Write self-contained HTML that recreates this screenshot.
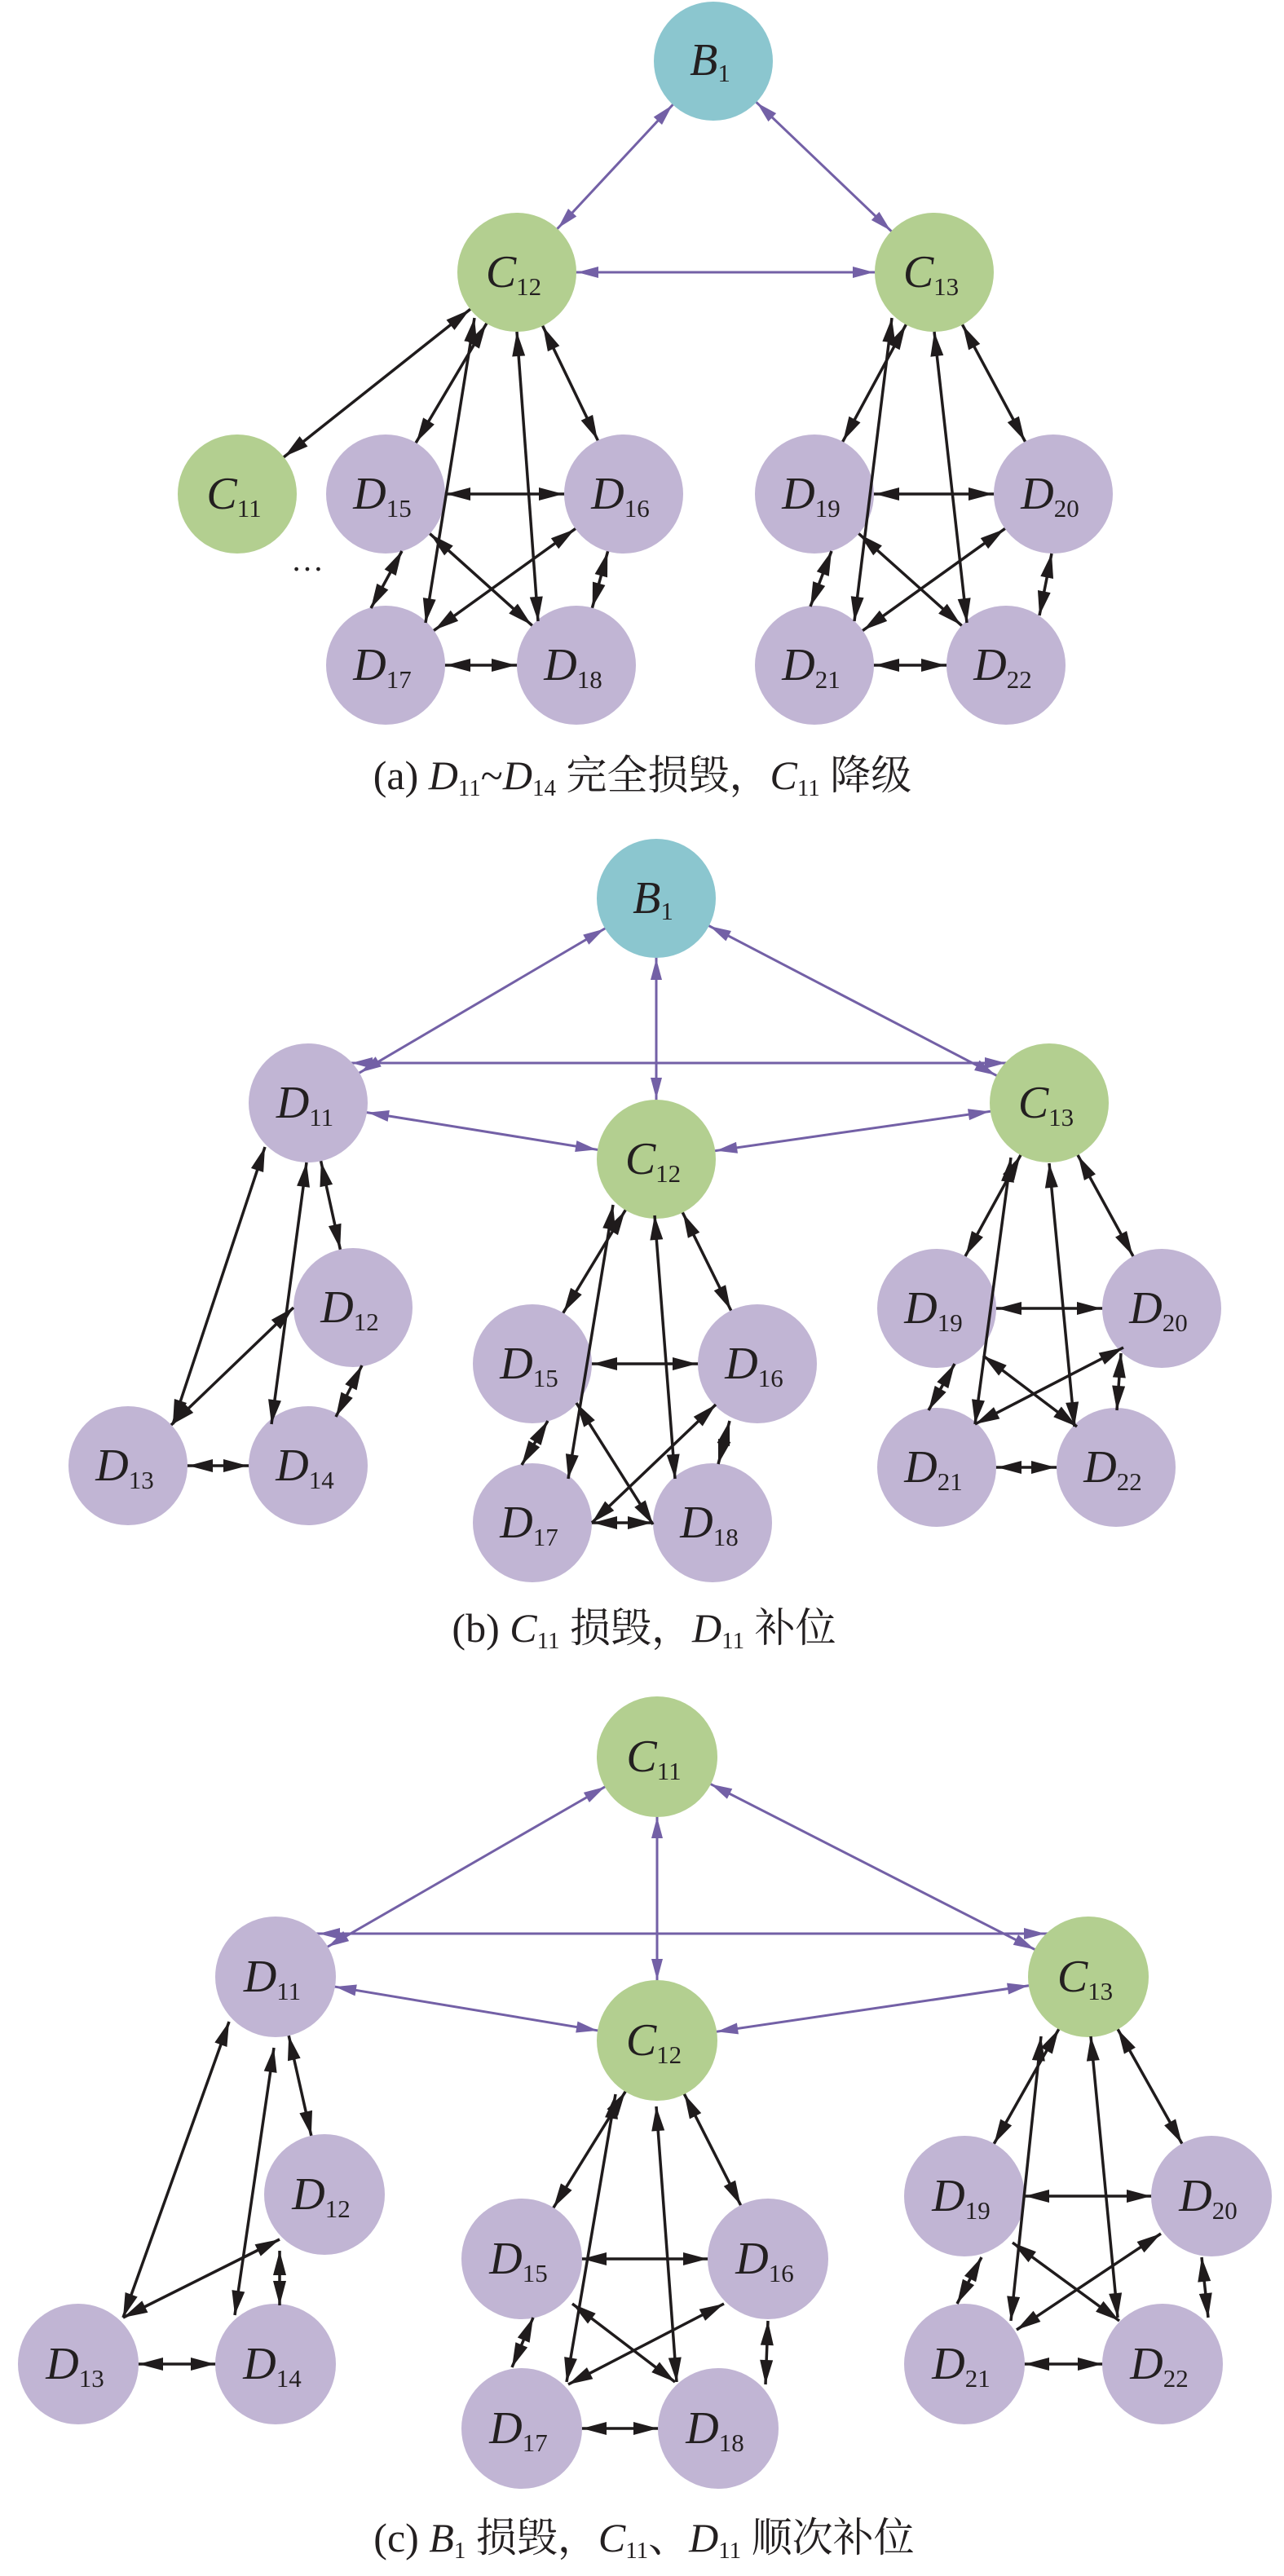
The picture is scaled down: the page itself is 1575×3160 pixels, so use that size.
<!DOCTYPE html>
<html><head><meta charset="utf-8"><style>
html,body{margin:0;padding:0;background:#fff;}
svg{display:block;}
.n text{font-family:"Liberation Serif",serif;fill:#231f20;}
.lb{font-style:italic;font-size:56px;}
.sb{font-style:normal;font-size:31px;}
.cap{font-family:"Liberation Serif","Noto Serif CJK SC",serif;font-size:50px;fill:#231f20;}
</style></head><body>
<svg width="1575" height="3160" viewBox="0 0 1575 3160" xmlns="http://www.w3.org/2000/svg">
<defs>
<marker id="k" viewBox="-110 -12 110 24" refX="0" refY="0" markerUnits="userSpaceOnUse" markerWidth="110" markerHeight="24" orient="auto-start-reverse"><path d="M-74,0 L-104,-8 L-104,8 Z" fill="#1f1b1c"/></marker>
<marker id="k0" viewBox="-40 -12 40 24" refX="0" refY="0" markerUnits="userSpaceOnUse" markerWidth="40" markerHeight="24" orient="auto-start-reverse"><path d="M0,0 L-30,-8 L-30,8 Z" fill="#1f1b1c"/></marker>
<marker id="p" viewBox="-110 -12 110 24" refX="0" refY="0" markerUnits="userSpaceOnUse" markerWidth="110" markerHeight="24" orient="auto-start-reverse"><path d="M-74,0 L-100,-7 L-100,7 Z" fill="#7360a6"/></marker>
<marker id="p2" viewBox="-110 -12 110 24" refX="0" refY="0" markerUnits="userSpaceOnUse" markerWidth="110" markerHeight="24" orient="auto-start-reverse"><path d="M-53,0 L-79,-7 L-79,7 Z" fill="#7360a6"/></marker>
</defs>

<!-- ===== center-directed edges (under nodes) ===== -->
<g stroke="#7360a6" stroke-width="3" marker-start="url(#p)" marker-end="url(#p)" fill="none">
<line x1="875" y1="75" x2="634" y2="334"/>
<line x1="875" y1="75" x2="1146" y2="334"/>
<line x1="634" y1="334" x2="1146" y2="334"/>
<line x1="805" y1="1102" x2="378" y2="1353"/>
<line x1="805" y1="1102" x2="805" y2="1422"/>
<line x1="805" y1="1102" x2="1287" y2="1353"/>
<line x1="378" y1="1353" x2="805" y2="1422"/>
<line x1="1287" y1="1353" x2="805" y2="1422"/>
<line x1="806" y1="2155" x2="338" y2="2425"/>
<line x1="806" y1="2155" x2="806" y2="2503"/>
<line x1="806" y1="2155" x2="1335" y2="2425"/>
<line x1="338" y1="2425" x2="806" y2="2503"/>
<line x1="1335" y1="2425" x2="806" y2="2503"/>
</g>
<line x1="378" y1="1304" x2="1287" y2="1304" stroke="#7360a6" stroke-width="3" marker-start="url(#p2)" marker-end="url(#p2)"/>
<line x1="338" y1="2372" x2="1335" y2="2372" stroke="#7360a6" stroke-width="3" marker-start="url(#p2)" marker-end="url(#p2)"/>

<g stroke="#1f1b1c" stroke-width="3.5" marker-start="url(#k)" marker-end="url(#k)" fill="none">
<!-- A -->
<line x1="634" y1="334" x2="291" y2="606"/>
<line x1="634" y1="334" x2="473" y2="606"/>
<line x1="634" y1="334" x2="765" y2="606"/>
<line x1="473" y1="606" x2="765" y2="606"/>
<line x1="473" y1="606" x2="707" y2="816"/>
<line x1="765" y1="606" x2="473" y2="816"/>
<line x1="765" y1="606" x2="707" y2="816"/>
<line x1="473" y1="816" x2="707" y2="816"/>
<line x1="1146" y1="334" x2="999" y2="606"/>
<line x1="1146" y1="334" x2="1292" y2="606"/>
<line x1="999" y1="606" x2="1292" y2="606"/>
<line x1="999" y1="606" x2="1234" y2="816"/>
<line x1="1292" y1="606" x2="999" y2="816"/>
<line x1="999" y1="816" x2="1234" y2="816"/>
<!-- B -->
<line x1="378" y1="1353" x2="433" y2="1604"/>
<line x1="157" y1="1798" x2="378" y2="1798"/>
<line x1="805" y1="1422" x2="653" y2="1673"/>
<line x1="805" y1="1422" x2="929" y2="1673"/>
<line x1="653" y1="1673" x2="929" y2="1673"/>
<line x1="653" y1="1868" x2="874" y2="1868"/>
<line x1="1287" y1="1353" x2="1149" y2="1605"/>
<line x1="1287" y1="1353" x2="1425" y2="1605"/>
<line x1="1149" y1="1605" x2="1425" y2="1605"/>
<line x1="1149" y1="1800" x2="1369" y2="1800"/>
<!-- C -->
<line x1="338" y1="2425" x2="398" y2="2692"/>
<line x1="96" y1="2900" x2="338" y2="2900"/>
<line x1="806" y1="2503" x2="640" y2="2771"/>
<line x1="806" y1="2503" x2="942" y2="2771"/>
<line x1="640" y1="2771" x2="942" y2="2771"/>
<line x1="640" y1="2979" x2="881" y2="2979"/>
<line x1="1335" y1="2425" x2="1183" y2="2694"/>
<line x1="1335" y1="2425" x2="1486" y2="2694"/>
<line x1="1183" y1="2694" x2="1486" y2="2694"/>
<line x1="1183" y1="2900" x2="1426" y2="2900"/>
</g>

<!-- ===== Nodes ===== -->
<g>
<circle cx="875" cy="75" r="73" fill="#8bc6cf"/>
<circle cx="634" cy="334" r="73" fill="#b3cf90"/>
<circle cx="1146" cy="334" r="73" fill="#b3cf90"/>
<circle cx="291" cy="606" r="73" fill="#b3cf90"/>
<circle cx="473" cy="606" r="73" fill="#c1b5d4"/>
<circle cx="765" cy="606" r="73" fill="#c1b5d4"/>
<circle cx="999" cy="606" r="73" fill="#c1b5d4"/>
<circle cx="1292" cy="606" r="73" fill="#c1b5d4"/>
<circle cx="473" cy="816" r="73" fill="#c1b5d4"/>
<circle cx="707" cy="816" r="73" fill="#c1b5d4"/>
<circle cx="999" cy="816" r="73" fill="#c1b5d4"/>
<circle cx="1234" cy="816" r="73" fill="#c1b5d4"/>
<circle cx="805" cy="1102" r="73" fill="#8bc6cf"/>
<circle cx="378" cy="1353" r="73" fill="#c1b5d4"/>
<circle cx="1287" cy="1353" r="73" fill="#b3cf90"/>
<circle cx="805" cy="1422" r="73" fill="#b3cf90"/>
<circle cx="433" cy="1604" r="73" fill="#c1b5d4"/>
<circle cx="157" cy="1798" r="73" fill="#c1b5d4"/>
<circle cx="378" cy="1798" r="73" fill="#c1b5d4"/>
<circle cx="653" cy="1673" r="73" fill="#c1b5d4"/>
<circle cx="929" cy="1673" r="73" fill="#c1b5d4"/>
<circle cx="653" cy="1868" r="73" fill="#c1b5d4"/>
<circle cx="874" cy="1868" r="73" fill="#c1b5d4"/>
<circle cx="1149" cy="1605" r="73" fill="#c1b5d4"/>
<circle cx="1425" cy="1605" r="73" fill="#c1b5d4"/>
<circle cx="1149" cy="1800" r="73" fill="#c1b5d4"/>
<circle cx="1369" cy="1800" r="73" fill="#c1b5d4"/>
<circle cx="806" cy="2155" r="74" fill="#b3cf90"/>
<circle cx="338" cy="2425" r="74" fill="#c1b5d4"/>
<circle cx="1335" cy="2425" r="74" fill="#b3cf90"/>
<circle cx="806" cy="2503" r="74" fill="#b3cf90"/>
<circle cx="398" cy="2692" r="74" fill="#c1b5d4"/>
<circle cx="96" cy="2900" r="74" fill="#c1b5d4"/>
<circle cx="338" cy="2900" r="74" fill="#c1b5d4"/>
<circle cx="640" cy="2771" r="74" fill="#c1b5d4"/>
<circle cx="942" cy="2771" r="74" fill="#c1b5d4"/>
<circle cx="640" cy="2979" r="74" fill="#c1b5d4"/>
<circle cx="881" cy="2979" r="74" fill="#c1b5d4"/>
<circle cx="1183" cy="2694" r="74" fill="#c1b5d4"/>
<circle cx="1486" cy="2694" r="74" fill="#c1b5d4"/>
<circle cx="1183" cy="2900" r="74" fill="#c1b5d4"/>
<circle cx="1426" cy="2900" r="74" fill="#c1b5d4"/>
</g>

<!-- ===== explicit-endpoint edges (over nodes) ===== -->
<g stroke="#1f1b1c" stroke-width="3.5" marker-start="url(#k0)" marker-end="url(#k0)" fill="none">
<!-- A -->
<line x1="582" y1="390" x2="522" y2="764"/>
<line x1="634" y1="407" x2="660" y2="762"/>
<line x1="493" y1="676" x2="455" y2="746"/>
<line x1="1094" y1="390" x2="1048" y2="762"/>
<line x1="1146" y1="407" x2="1186" y2="764"/>
<line x1="1020" y1="676" x2="994" y2="744"/>
<line x1="1290" y1="679" x2="1275" y2="755"/>
<!-- B -->
<line x1="325" y1="1407" x2="212" y2="1747"/>
<line x1="376" y1="1426" x2="333" y2="1747"/>
<line x1="360" y1="1604" x2="210" y2="1748"/>
<line x1="444" y1="1675" x2="412" y2="1738"/>
<line x1="752" y1="1478" x2="697" y2="1814"/>
<line x1="803" y1="1491" x2="828" y2="1814"/>
<line x1="707" y1="1721" x2="801" y2="1870"/>
<line x1="878" y1="1723" x2="726" y2="1868"/>
<line x1="672" y1="1743" x2="640" y2="1797"/>
<line x1="895" y1="1743" x2="881" y2="1796"/>
<line x1="1240" y1="1420" x2="1196" y2="1747"/>
<line x1="1287" y1="1427" x2="1318" y2="1750"/>
<line x1="1206" y1="1663" x2="1321" y2="1750"/>
<line x1="1378" y1="1653" x2="1196" y2="1747"/>
<line x1="1171" y1="1673" x2="1139" y2="1730"/>
<line x1="1375" y1="1660" x2="1370" y2="1730"/>
<!-- C -->
<line x1="281" y1="2480" x2="151" y2="2843"/>
<line x1="336" y1="2512" x2="288" y2="2840"/>
<line x1="343" y1="2747" x2="151" y2="2843"/>
<line x1="343" y1="2761" x2="343" y2="2828"/>
<line x1="755" y1="2569" x2="695" y2="2922"/>
<line x1="805" y1="2584" x2="830" y2="2922"/>
<line x1="702" y1="2826" x2="828" y2="2922"/>
<line x1="888" y1="2826" x2="697" y2="2925"/>
<line x1="654" y1="2843" x2="628" y2="2904"/>
<line x1="942" y1="2847" x2="939" y2="2925"/>
<line x1="1277" y1="2498" x2="1240" y2="2847"/>
<line x1="1338" y1="2498" x2="1371" y2="2843"/>
<line x1="1242" y1="2751" x2="1373" y2="2847"/>
<line x1="1424" y1="2740" x2="1247" y2="2858"/>
<line x1="1204" y1="2769" x2="1174" y2="2826"/>
<line x1="1474" y1="2769" x2="1482" y2="2843"/>
</g>

<!-- ===== Labels ===== -->
<g class="n">
<text x="871" y="92" text-anchor="middle"><tspan class="lb">B</tspan><tspan class="sb" dy="8">1</tspan></text>
<text x="630" y="352" text-anchor="middle"><tspan class="lb">C</tspan><tspan class="sb" dy="10">12</tspan></text>
<text x="1142" y="352" text-anchor="middle"><tspan class="lb">C</tspan><tspan class="sb" dy="10">13</tspan></text>
<text x="287" y="624" text-anchor="middle"><tspan class="lb">C</tspan><tspan class="sb" dy="10">11</tspan></text>
<text x="469" y="624" text-anchor="middle"><tspan class="lb">D</tspan><tspan class="sb" dy="10">15</tspan></text>
<text x="761" y="624" text-anchor="middle"><tspan class="lb">D</tspan><tspan class="sb" dy="10">16</tspan></text>
<text x="995" y="624" text-anchor="middle"><tspan class="lb">D</tspan><tspan class="sb" dy="10">19</tspan></text>
<text x="1288" y="624" text-anchor="middle"><tspan class="lb">D</tspan><tspan class="sb" dy="10">20</tspan></text>
<text x="469" y="834" text-anchor="middle"><tspan class="lb">D</tspan><tspan class="sb" dy="10">17</tspan></text>
<text x="703" y="834" text-anchor="middle"><tspan class="lb">D</tspan><tspan class="sb" dy="10">18</tspan></text>
<text x="995" y="834" text-anchor="middle"><tspan class="lb">D</tspan><tspan class="sb" dy="10">21</tspan></text>
<text x="1230" y="834" text-anchor="middle"><tspan class="lb">D</tspan><tspan class="sb" dy="10">22</tspan></text>
<text x="377" y="700" text-anchor="middle" style="font-size:40px">…</text>
<text x="801" y="1120" text-anchor="middle"><tspan class="lb">B</tspan><tspan class="sb" dy="8">1</tspan></text>
<text x="374" y="1371" text-anchor="middle"><tspan class="lb">D</tspan><tspan class="sb" dy="10">11</tspan></text>
<text x="1283" y="1371" text-anchor="middle"><tspan class="lb">C</tspan><tspan class="sb" dy="10">13</tspan></text>
<text x="801" y="1440" text-anchor="middle"><tspan class="lb">C</tspan><tspan class="sb" dy="10">12</tspan></text>
<text x="429" y="1622" text-anchor="middle"><tspan class="lb">D</tspan><tspan class="sb" dy="10">12</tspan></text>
<text x="153" y="1816" text-anchor="middle"><tspan class="lb">D</tspan><tspan class="sb" dy="10">13</tspan></text>
<text x="374" y="1816" text-anchor="middle"><tspan class="lb">D</tspan><tspan class="sb" dy="10">14</tspan></text>
<text x="649" y="1691" text-anchor="middle"><tspan class="lb">D</tspan><tspan class="sb" dy="10">15</tspan></text>
<text x="925" y="1691" text-anchor="middle"><tspan class="lb">D</tspan><tspan class="sb" dy="10">16</tspan></text>
<text x="649" y="1886" text-anchor="middle"><tspan class="lb">D</tspan><tspan class="sb" dy="10">17</tspan></text>
<text x="870" y="1886" text-anchor="middle"><tspan class="lb">D</tspan><tspan class="sb" dy="10">18</tspan></text>
<text x="1145" y="1623" text-anchor="middle"><tspan class="lb">D</tspan><tspan class="sb" dy="10">19</tspan></text>
<text x="1421" y="1623" text-anchor="middle"><tspan class="lb">D</tspan><tspan class="sb" dy="10">20</tspan></text>
<text x="1145" y="1818" text-anchor="middle"><tspan class="lb">D</tspan><tspan class="sb" dy="10">21</tspan></text>
<text x="1365" y="1818" text-anchor="middle"><tspan class="lb">D</tspan><tspan class="sb" dy="10">22</tspan></text>
<text x="802" y="2173" text-anchor="middle"><tspan class="lb">C</tspan><tspan class="sb" dy="10">11</tspan></text>
<text x="334" y="2443" text-anchor="middle"><tspan class="lb">D</tspan><tspan class="sb" dy="10">11</tspan></text>
<text x="1331" y="2443" text-anchor="middle"><tspan class="lb">C</tspan><tspan class="sb" dy="10">13</tspan></text>
<text x="802" y="2521" text-anchor="middle"><tspan class="lb">C</tspan><tspan class="sb" dy="10">12</tspan></text>
<text x="394" y="2710" text-anchor="middle"><tspan class="lb">D</tspan><tspan class="sb" dy="10">12</tspan></text>
<text x="92" y="2918" text-anchor="middle"><tspan class="lb">D</tspan><tspan class="sb" dy="10">13</tspan></text>
<text x="334" y="2918" text-anchor="middle"><tspan class="lb">D</tspan><tspan class="sb" dy="10">14</tspan></text>
<text x="636" y="2789" text-anchor="middle"><tspan class="lb">D</tspan><tspan class="sb" dy="10">15</tspan></text>
<text x="938" y="2789" text-anchor="middle"><tspan class="lb">D</tspan><tspan class="sb" dy="10">16</tspan></text>
<text x="636" y="2997" text-anchor="middle"><tspan class="lb">D</tspan><tspan class="sb" dy="10">17</tspan></text>
<text x="877" y="2997" text-anchor="middle"><tspan class="lb">D</tspan><tspan class="sb" dy="10">18</tspan></text>
<text x="1179" y="2712" text-anchor="middle"><tspan class="lb">D</tspan><tspan class="sb" dy="10">19</tspan></text>
<text x="1482" y="2712" text-anchor="middle"><tspan class="lb">D</tspan><tspan class="sb" dy="10">20</tspan></text>
<text x="1179" y="2918" text-anchor="middle"><tspan class="lb">D</tspan><tspan class="sb" dy="10">21</tspan></text>
<text x="1422" y="2918" text-anchor="middle"><tspan class="lb">D</tspan><tspan class="sb" dy="10">22</tspan></text>
</g>

<!-- ===== Captions ===== -->
<text class="cap" x="788" y="968" text-anchor="middle">(a) <tspan font-style="italic">D</tspan><tspan font-size="29" dy="8">11</tspan><tspan dy="-8">~</tspan><tspan font-style="italic">D</tspan><tspan font-size="29" dy="8">14</tspan><tspan dy="-8"> 完全损毁，</tspan><tspan font-style="italic">C</tspan><tspan font-size="29" dy="8">11</tspan><tspan dy="-8"> 降级</tspan></text>
<text class="cap" x="790" y="2014" text-anchor="middle">(b) <tspan font-style="italic">C</tspan><tspan font-size="29" dy="8">11</tspan><tspan dy="-8"> 损毁，</tspan><tspan font-style="italic">D</tspan><tspan font-size="29" dy="8">11</tspan><tspan dy="-8"> 补位</tspan></text>
<text class="cap" x="790" y="3130" text-anchor="middle">(c) <tspan font-style="italic">B</tspan><tspan font-size="29" dy="8">1</tspan><tspan dy="-8"> 损毁，</tspan><tspan font-style="italic">C</tspan><tspan font-size="29" dy="8">11</tspan><tspan dy="-8">、</tspan><tspan font-style="italic">D</tspan><tspan font-size="29" dy="8">11</tspan><tspan dy="-8"> 顺次补位</tspan></text>
</svg>
</body></html>
